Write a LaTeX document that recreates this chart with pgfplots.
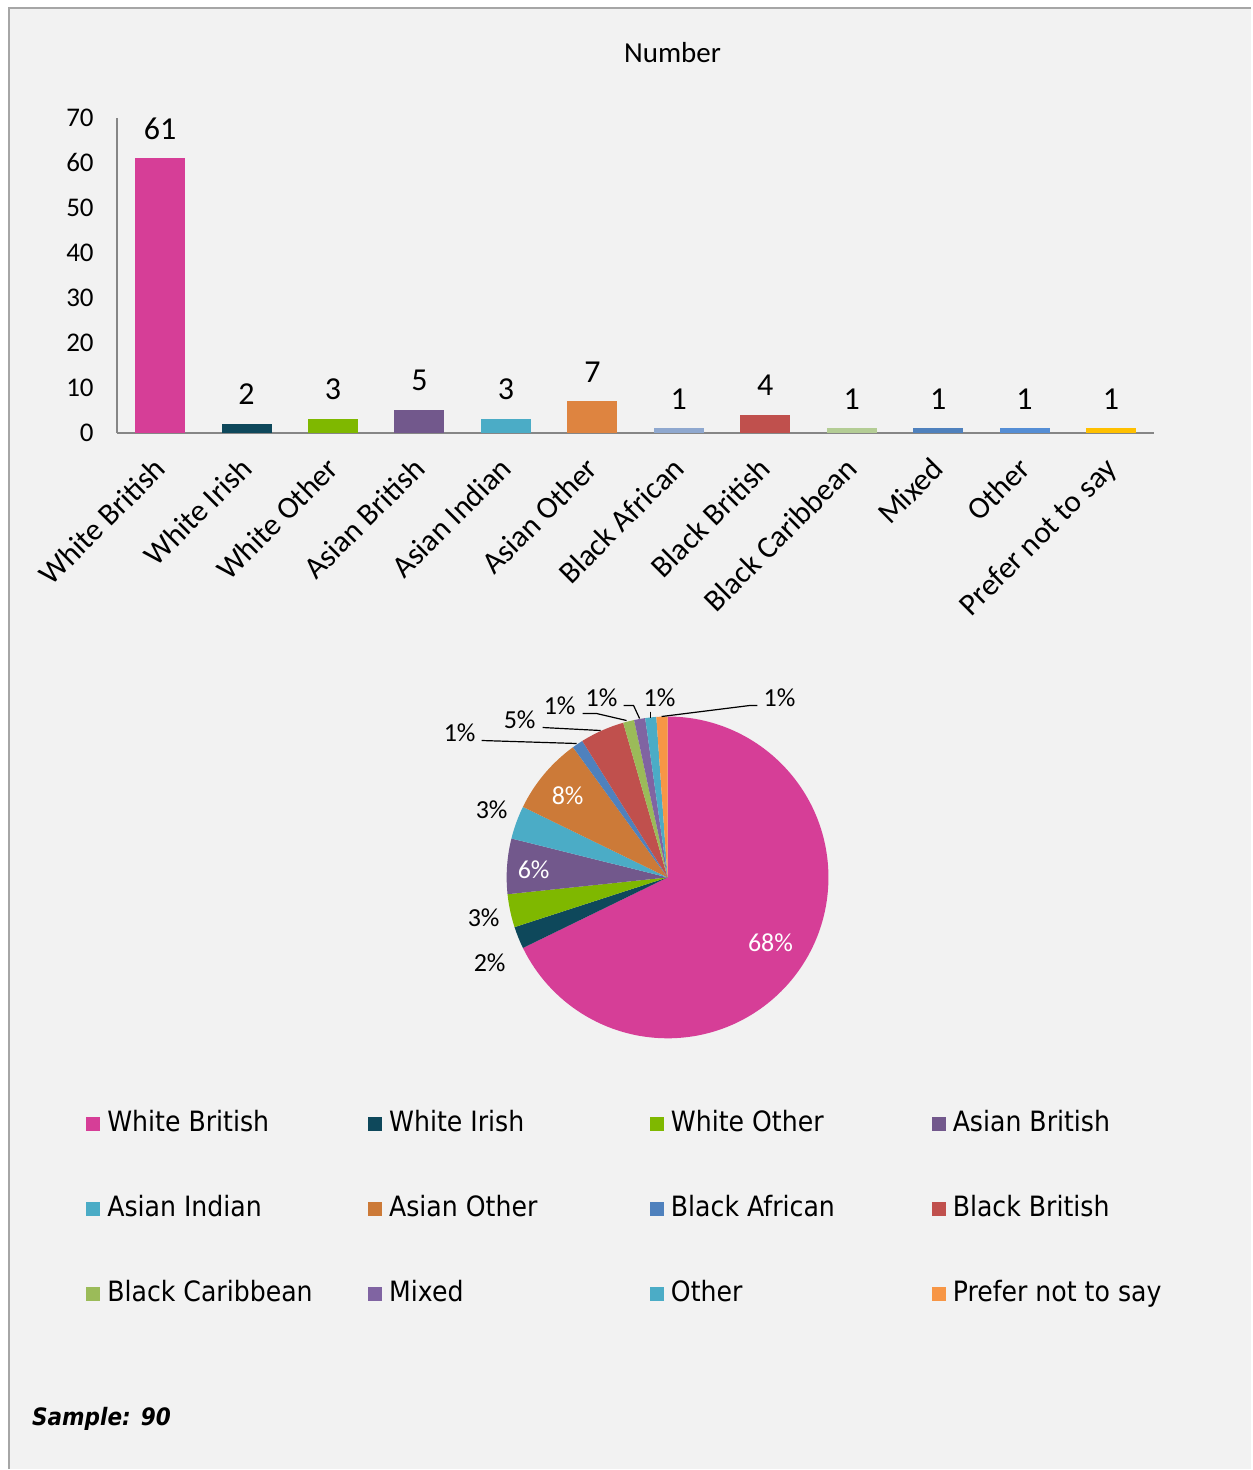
\documentclass[border=0pt]{standalone}
\usepackage{fontspec}
\setmainfont{Carlito}
\newfontfamily\legfont[FakeStretch=0.9]{DejaVu Sans}
\usepackage{pgfplots}
\pgfplotsset{compat=1.18}
\definecolor{bg}{HTML}{F2F2F2}
\definecolor{bordergray}{HTML}{A6A6A6}
\definecolor{axisgray}{HTML}{868686}
\definecolor{b1}{HTML}{D63E97}
\definecolor{b2}{HTML}{0E485B}
\definecolor{b3}{HTML}{7FB800}
\definecolor{b4}{HTML}{72588C}
\definecolor{b5}{HTML}{4BACC6}
\definecolor{b6}{HTML}{DE8440}
\definecolor{b7}{HTML}{8FA8CF}
\definecolor{b8}{HTML}{C0504D}
\definecolor{b9}{HTML}{B4CD95}
\definecolor{b10}{HTML}{4F81BD}
\definecolor{b11}{HTML}{558ED5}
\definecolor{b12}{HTML}{FFC000}
\definecolor{p1}{HTML}{D63E97}
\definecolor{p2}{HTML}{0E485B}
\definecolor{p3}{HTML}{7FB800}
\definecolor{p4}{HTML}{72588C}
\definecolor{p5}{HTML}{4BACC6}
\definecolor{p6}{HTML}{CC7A38}
\definecolor{p7}{HTML}{4F81BD}
\definecolor{p8}{HTML}{C0504D}
\definecolor{p9}{HTML}{9BBB59}
\definecolor{p10}{HTML}{8064A2}
\definecolor{p11}{HTML}{4BACC6}
\definecolor{p12}{HTML}{F79646}
\newcommand\pielab{\fontsize{13pt}{14pt}\selectfont}
\newcommand\legtext[1]{\makebox[130.5pt][l]{#1}}
\begin{document}
\begin{tikzpicture}
% ---------- page, pie chart and legend (axis units = reference pixels) ----------
\begin{axis}[at={(0pt,0pt)}, anchor=north west, x=0.5pt, y=0.5pt,
  xmin=0, xmax=1252, ymin=-1470, ymax=0, hide axis, clip=false,
  legend columns=4,
  legend cell align=left,
  legend image code/.code={\fill[#1, draw=none] (0pt,-3.5pt) rectangle (7pt,3.5pt);},
  legend style={at={(axis cs:80,-1107)}, anchor=north west, draw=none, fill=none,
    font=\legfont\fontsize{14pt}{16pt}\selectfont,
    nodes={inner sep=0pt, text height=10.5pt, text depth=3pt},
    /tikz/every odd column/.append style={column sep=3.5pt},
    /tikz/every even column/.append style={column sep=0pt},
    row sep=29pt},
]
\fill[white] (axis cs:0,0) rectangle (axis cs:1252,-1470);
\fill[bg] (axis cs:9,-8) rectangle (axis cs:1252,-1470);
\draw[bordergray, line width=1pt] (axis cs:9,-1470) -- (axis cs:9,-8) -- (axis cs:1252,-8);
\node[font=\fontsize{14.5pt}{16pt}\selectfont] at (axis cs:673,-53) {Number};
% pie slices from the counts (total 90 -> 4 degrees per respondent), clockwise from the top
\def\cum{0}\def\idx{0}
\pgfplotsforeachungrouped \v in {61,2,3,5,3,7,1,4,1,1,1,1}{%
  \pgfmathsetmacro\sa{90-\cum*4}%
  \pgfmathsetmacro\cum{\cum+\v}%
  \pgfmathsetmacro\ea{90-\cum*4}%
  \pgfmathtruncatemacro\idx{\idx+1}%
  \edef\tmp{\noexpand\fill[p\idx] (axis cs:668,-878) -- ++(\sa:80.5pt) arc[start angle=\sa, end angle=\ea, radius=80.5pt] -- cycle;}%
  \tmp
}
% pie labels
\node[font=\pielab, text=white] at (axis cs:771,-943) {68\%};
\node[font=\pielab] at (axis cs:490,-963) {2\%};
\node[font=\pielab] at (axis cs:484,-918) {3\%};
\node[font=\pielab, text=white] at (axis cs:534,-870) {6\%};
\node[font=\pielab] at (axis cs:492,-810) {3\%};
\node[font=\pielab, text=white] at (axis cs:568,-796) {8\%};
\node[font=\pielab] at (axis cs:460,-733) {1\%};
\node[font=\pielab] at (axis cs:520,-720) {5\%};
\node[font=\pielab] at (axis cs:560,-706) {1\%};
\node[font=\pielab] at (axis cs:602,-698) {1\%};
\node[font=\pielab] at (axis cs:660,-698) {1\%};
\node[font=\pielab] at (axis cs:780,-698) {1\%};
\draw[black, line width=0.6pt] (axis cs:482,-741) -- (axis cs:577,-744);
\draw[black, line width=0.6pt] (axis cs:543,-728) -- (axis cs:601,-731);
\draw[black, line width=0.6pt] (axis cs:583,-714) -- (axis cs:597,-714) -- (axis cs:627,-721);
\draw[black, line width=0.6pt] (axis cs:624,-706) -- (axis cs:634,-706) -- (axis cs:640,-719);
\draw[black, line width=0.6pt] (axis cs:651,-712) -- (axis cs:651,-718);
\draw[black, line width=0.6pt] (axis cs:662,-717) -- (axis cs:750,-706) -- (axis cs:758,-706);
\node[anchor=west, font=\legfont\bfseries\itshape\fontsize{12pt}{14pt}\selectfont] at (axis cs:25,-1420) {Sample: 90};
% legend
\addlegendimage{fill=p1}\addlegendentry{\legtext{White British}}
\addlegendimage{fill=p2}\addlegendentry{\legtext{White Irish}}
\addlegendimage{fill=p3}\addlegendentry{\legtext{White Other}}
\addlegendimage{fill=p4}\addlegendentry{\legtext{Asian British}}
\addlegendimage{fill=p5}\addlegendentry{\legtext{Asian Indian}}
\addlegendimage{fill=p6}\addlegendentry{\legtext{Asian Other}}
\addlegendimage{fill=p7}\addlegendentry{\legtext{Black African}}
\addlegendimage{fill=p8}\addlegendentry{\legtext{Black British}}
\addlegendimage{fill=p9}\addlegendentry{\legtext{Black Caribbean}}
\addlegendimage{fill=p10}\addlegendentry{\legtext{Mixed}}
\addlegendimage{fill=p11}\addlegendentry{\legtext{Other}}
\addlegendimage{fill=p12}\addlegendentry{\legtext{Prefer not to say}}
\end{axis}
% ---------- bar chart ----------
\begin{axis}[at={(58.5pt,-216.5pt)}, anchor=south west, x=43.25pt, y=2.25pt,
  xmin=-0.5, xmax=11.5, ymin=0, ymax=70,
  /pgf/number format/assume math mode=true,
  axis x line=bottom, axis y line=left,
  axis line style={draw=axisgray, line width=1pt, -},
  tick style={draw=none},
  ytick={0,10,...,70},
  yticklabel style={font=\fontsize{13.5pt}{15pt}\selectfont, xshift=-6pt},
  xtick={0,...,11},
  xticklabels={White British, White Irish, White Other, Asian British, Asian Indian, Asian Other, Black African, Black British, Black Caribbean, Mixed, Other, Prefer not to say},
  xticklabel style={font=\fontsize{15.5pt}{18pt}\selectfont, inner sep=0pt, xshift=-4pt, yshift=-9pt, rotate=45, anchor=north east},
  every axis plot/.append style={ybar, bar width=25pt, bar shift=0pt, draw=none,
    nodes near coords, nodes near coords style={font=\fontsize{16pt}{18pt}\selectfont, text=black, yshift=6pt}},
]
\addplot[fill=b1] coordinates {(0,61)};
\addplot[fill=b2] coordinates {(1,2)};
\addplot[fill=b3] coordinates {(2,3)};
\addplot[fill=b4] coordinates {(3,5)};
\addplot[fill=b5] coordinates {(4,3)};
\addplot[fill=b6] coordinates {(5,7)};
\addplot[fill=b7] coordinates {(6,1)};
\addplot[fill=b8] coordinates {(7,4)};
\addplot[fill=b9] coordinates {(8,1)};
\addplot[fill=b10] coordinates {(9,1)};
\addplot[fill=b11] coordinates {(10,1)};
\addplot[fill=b12] coordinates {(11,1)};
\end{axis}
\end{tikzpicture}
\end{document}
